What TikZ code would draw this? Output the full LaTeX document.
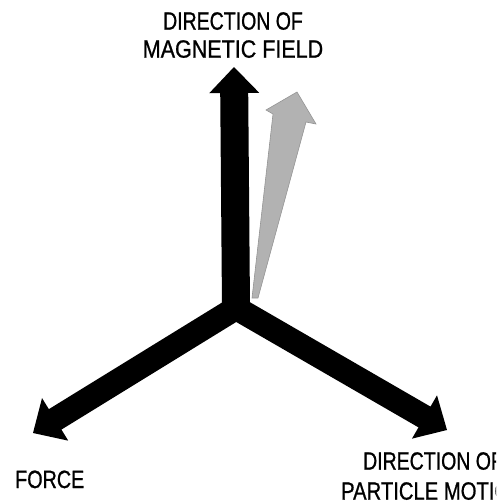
\documentclass[tikz,border=0pt]{standalone}
\usepackage{fontspec}
\setmainfont{Liberation Sans}
\newfontfamily\lblfont{Liberation Sans}[FakeBold=0.9]
\usetikzlibrary{calc}
\newcommand\sqz[2]{\scalebox{#1}[1]{#2}}
\begin{document}
\begin{tikzpicture}[x=1pt,y=-1pt,
  lbl/.style={inner sep=0pt, align=center, text=black},
  blackarrow/.style={fill=black},
  greyarrow/.style={fill=black!30, draw=black!42, line width=0.6pt}]
\useasboundingbox (0,0) rectangle (496,504);
\clip (0,0) rectangle (496,504);
% grey (tilted) arrow
\path[greyarrow] (252,298) -- (273,114) -- (266,110) -- (297,92) -- (316,124) -- (306,122) -- (258,298) -- cycle;
% three black arrows
\coordinate (C) at (236,308);
\coordinate (T0) at (234,67);
\coordinate (T1) at (33,433);
\coordinate (T2) at (447,430);
\foreach \k/\w in {0/14,1/12,2/12}{
  \coordinate (B\k) at ($(T\k)!26pt!(C)$);
  \coordinate (P\k) at ($(B\k)!\w pt!90:(T\k)$);
  \coordinate (M\k) at ($(B\k)!\w pt!-90:(T\k)$);
  \coordinate (HP\k) at ($(B\k)!25pt!90:(T\k)$);
  \coordinate (HM\k) at ($(B\k)!25pt!-90:(T\k)$);
  \coordinate (PE\k) at ($(P\k)+(C)-(B\k)$);
  \coordinate (ME\k) at ($(M\k)+(C)-(B\k)$);
}
\coordinate (J01) at (intersection of P0--PE0 and M1--ME1);
\coordinate (J12) at (intersection of P1--PE1 and M2--ME2);
\coordinate (J20) at (intersection of P2--PE2 and M0--ME0);
\path[blackarrow] (T0) -- (HP0) -- (P0) -- (J01) -- (M1) -- (HM1) -- (T1)
  -- (HP1) -- (P1) -- (J12) -- (M2) -- (HM2) -- (T2)
  -- (HP2) -- (P2) -- (J20) -- (M0) -- (HM0) -- cycle;
% labels
\node[lbl, anchor=north, font=\lblfont\fontsize{25}{28}\selectfont] (field) at (233,12)
  {\sqz{0.78}{DIRECTION OF}\\\sqz{0.86}{MAGNETIC FIELD}};
\node[lbl, anchor=base west, font=\lblfont\fontsize{25}{28}\selectfont] (force) at (15,488)
  {\sqz{0.79}{FORCE}};
\node[lbl, anchor=north, font=\lblfont\fontsize{25}{30}\selectfont] (motion) at (433,452)
  {\sqz{0.78}{DIRECTION OF}\\\sqz{0.81}{PARTICLE MOTION}};
\end{tikzpicture}
\end{document}
